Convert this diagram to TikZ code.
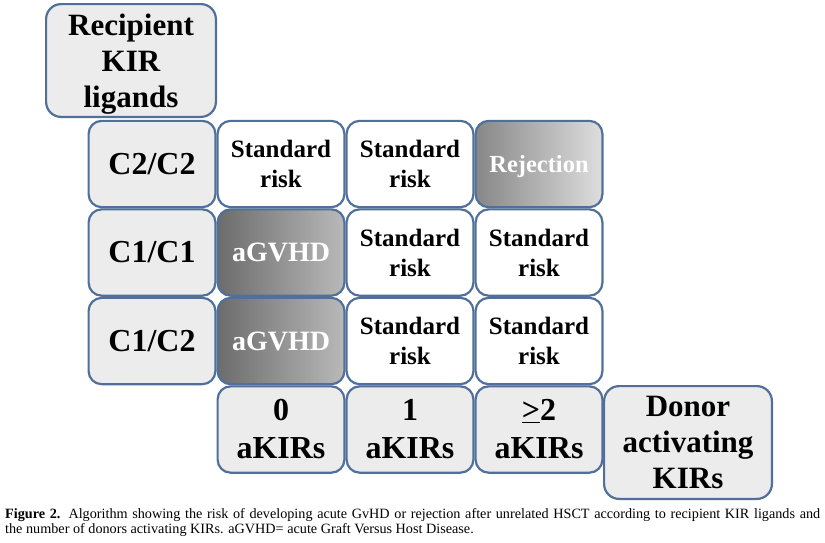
\documentclass[tikz,border=0pt]{standalone}
\usepackage{fontspec}
\setmainfont{Liberation Serif}
\definecolor{bordercol}{RGB}{80,112,155}
\definecolor{headfill}{RGB}{236,236,236}
\definecolor{gvhdL}{RGB}{108,108,108}
\definecolor{gvhdR}{RGB}{185,185,185}
\definecolor{rejL}{RGB}{135,135,135}
\definecolor{rejR}{RGB}{222,222,222}
\begin{document}
\begin{tikzpicture}[x=1pt,y=-1pt,
  box/.style={draw=bordercol, line width=2.2pt, rounded corners=13pt, inner sep=0pt, outer sep=0pt, align=center},
  cell/.style={box, minimum width=126.8pt, minimum height=86.3pt},
  head/.style={cell, fill=headfill, font=\fontsize{32}{38}\bfseries\selectfont},
  bighead/.style={box, fill=headfill, minimum height=112.8pt, rounded corners=15pt, font=\fontsize{31}{36}\bfseries\selectfont},
  std/.style={cell, fill=white, font=\fontsize{25}{30}\bfseries\selectfont},
  gvhd/.style={cell, left color=gvhdL, right color=gvhdR, text=white, font=\fontsize{28}{32}\bfseries\selectfont},
  rej/.style={cell, left color=rejL, right color=rejR, text=white, text depth=0pt, font=\fontsize{24.5}{30}\bfseries\selectfont},
  captext/.style={inner sep=0pt, anchor=base west, font=\fontsize{14.2}{15}\selectfont}
]
\useasboundingbox[fill=white] (0,0) rectangle (825,542);

% header boxes
\node[bighead, minimum width=169.8pt, text depth=0pt] (rec) at (131,60.5) {Recipient\\KIR\\ligands};
\node[bighead, minimum width=167.8pt] (don) at (688,442.5) {Donor\\activating\\KIRs};

% row labels
\node[head] (r1) at (152,164) {C2/C2};
\node[head] (r2) at (152,252.5) {C1/C1};
\node[head] (r3) at (152,341) {C1/C2};

% row 1
\node[std] (c11) at (281,164) {Standard\\risk};
\node[std] (c12) at (410,164) {Standard\\risk};
\node[rej] (c13) at (539,164) {Rejection};
% row 2
\node[gvhd] (c21) at (281,252.5) {aGVHD};
\node[std] (c22) at (410,252.5) {Standard\\risk};
\node[std] (c23) at (539,252.5) {Standard\\risk};
% row 3
\node[gvhd] (c31) at (281,341) {aGVHD};
\node[std] (c32) at (410,341) {Standard\\risk};
\node[std] (c33) at (539,341) {Standard\\risk};

% column labels
\node[head] (k0) at (281,429.5) {0\\aKIRs};
\node[head] (k1) at (410,429.5) {1\\aKIRs};
\node[head] (k2) at (539,429.5) {\underline{>}2\\aKIRs};

% caption
\node[captext] (cap1) at (5,518) {\makebox[815pt][s]{\textbf{Figure 2.} Algorithm showing the risk of developing acute GvHD or rejection after unrelated HSCT according to recipient KIR ligands and}};
\node[captext] (cap2) at (5,533) {the number of donors activating KIRs. aGVHD= acute Graft Versus Host Disease.};
\end{tikzpicture}
\end{document}
